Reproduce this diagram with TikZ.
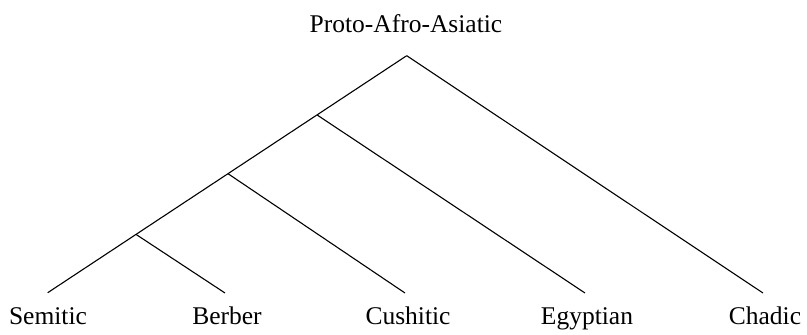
\documentclass[tikz,border=0pt]{standalone}
\usepackage{fontspec}
\setmainfont{Liberation Serif}
\usetikzlibrary{calc}
\begin{document}
\begin{tikzpicture}[x=1pt,y=-1pt,
  lbl/.style={anchor=base,inner sep=0pt,font=\fontsize{25.5}{30}\selectfont},
  edge/.style={line width=1.1pt}]
\useasboundingbox (0,0) rectangle (807,335);
\node[lbl] (root) at (406,32) {Proto-Afro-Asiatic};
\coordinate (apex) at (406.7,55.7);
\coordinate (sem) at (47.7,292.7);
\coordinate (ber) at (225,293);
\coordinate (cus) at (405,293);
\coordinate (egy) at (585,293);
\coordinate (cha) at (763,293);
\coordinate (b1) at ($(apex)!0.2498!(sem)$);
\coordinate (b2) at ($(apex)!0.4978!(sem)$);
\coordinate (b3) at ($(apex)!0.7540!(sem)$);
\draw[edge] (apex) -- (sem);
\draw[edge] (apex) -- (cha);
\draw[edge] (b1) -- (egy);
\draw[edge] (b2) -- (cus);
\draw[edge] (b3) -- (ber);
\node[lbl] (nsem) at (48,324) {Semitic};
\node[lbl] (nber) at (227,324) {Berber};
\node[lbl] (ncus) at (408,324) {Cushitic};
\node[lbl] (negy) at (587,324) {Egyptian};
\node[lbl] (ncha) at (765,324) {Chadic};
\end{tikzpicture}
\end{document}
